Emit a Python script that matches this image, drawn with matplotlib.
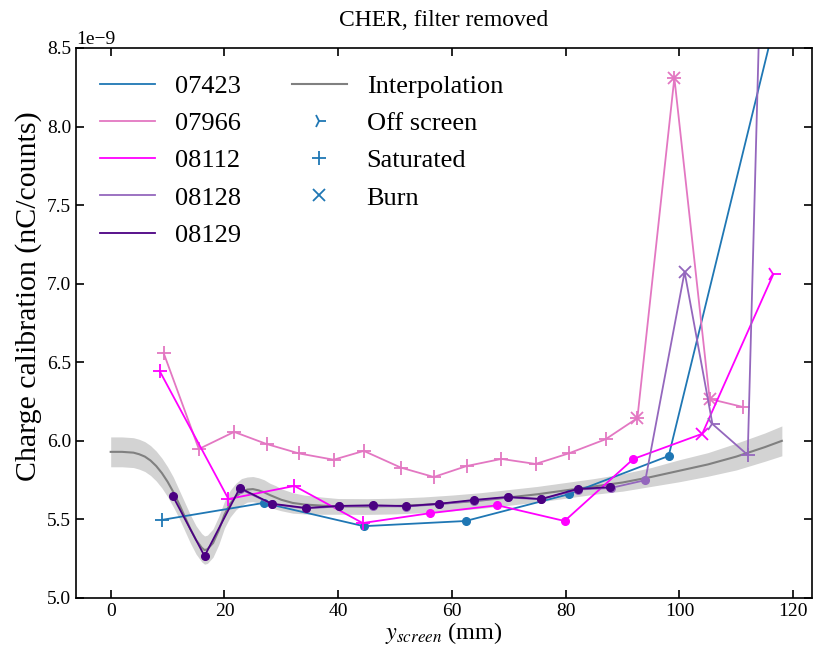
import matplotlib
matplotlib.use("Agg")
import matplotlib.pyplot as plt
from matplotlib.lines import Line2D
import numpy as np

plt.rcParams['font.family'] = ['Liberation Serif', 'DejaVu Serif']
plt.rcParams['mathtext.fontset'] = 'stix'

# ---- data (values in units of 1e-9 nC/counts) ----
x_07423 = [9.0, 26.9, 44.5, 62.4, 80.5, 98.1, 121.0]
y_07423 = [5.497, 5.605, 5.457, 5.49, 5.66, 5.904, 9.29]
m_07423 = ['+', 'o', 'o', 'o', 'o', 'o', 'o']

x_07966 = [9.3, 15.5, 21.7, 27.4, 33.1, 39.2, 44.5, 51.0, 56.8, 62.6, 68.7, 74.7, 80.5, 87.0, 92.6, 99.1, 105.3, 111.1]
y_07966 = [6.56, 5.948, 6.057, 5.98, 5.92, 5.88, 5.936, 5.83, 5.77, 5.84, 5.885, 5.853, 5.92, 6.01, 6.145, 8.31, 6.267, 6.216]
m_07966 = ['+'] * 14 + ['+x', '+x', '+x', '+']

x_08112 = [8.6, 20.7, 32.3, 44.3, 56.2, 68.0, 79.8, 91.9, 104.0, 116.5]
y_08112 = [6.445, 5.63, 5.713, 5.477, 5.54, 5.59, 5.49, 5.885, 6.045, 7.06]
m_08112 = ['+', '+', '+', '+', 'o', 'o', 'o', 'o', 'x', '4']

x_08128 = [22.7, 28.3, 34.3, 40.2, 46.2, 52.0, 57.8, 63.9, 69.8, 75.7, 82.1, 87.9, 94.0, 100.9, 105.8, 112.0, 116.0]
y_08128 = [5.695, 5.598, 5.57, 5.583, 5.587, 5.582, 5.597, 5.62, 5.64, 5.628, 5.69, 5.70, 5.75, 7.075, 6.107, 5.91, 11.33]
m_08128 = ['o'] * 13 + ['x', '4', '+', 'o']

x_08129 = [10.9, 16.5, 22.7, 28.3, 34.3, 40.2, 46.2, 52.0, 57.8, 63.9, 69.8, 75.7, 82.1, 87.7]
y_08129 = [5.65, 5.267, 5.70, 5.60, 5.573, 5.586, 5.59, 5.585, 5.60, 5.624, 5.643, 5.63, 5.694, 5.705]
m_08129 = ['o'] * 14

x_interp = [0, 2, 4, 5, 6, 7, 8, 9, 10, 11, 12, 13, 14, 15, 16, 16.5, 17, 18, 19, 20, 21, 22, 23, 24, 25,
            26, 27, 28, 29, 30, 32, 34, 37, 40, 45, 50, 55, 60, 65, 70, 75, 80, 85, 90, 95, 100, 105, 110,
            115, 118]
y_interp = [5.93, 5.93, 5.925, 5.915, 5.90, 5.875, 5.84, 5.795, 5.74, 5.675, 5.60, 5.52, 5.44, 5.37, 5.32,
            5.305, 5.31, 5.35, 5.43, 5.53, 5.60, 5.645, 5.675, 5.69, 5.693, 5.685, 5.672, 5.655, 5.64, 5.625,
            5.605, 5.595, 5.588, 5.583, 5.582, 5.585, 5.593, 5.605, 5.62, 5.64, 5.66, 5.685, 5.71, 5.735,
            5.77, 5.81, 5.85, 5.90, 5.96, 6.00]
e_interp = [0.095, 0.095, 0.095, 0.095, 0.095, 0.095, 0.095, 0.095, 0.095, 0.095, 0.09, 0.09, 0.09, 0.09,
            0.09, 0.09, 0.09, 0.09, 0.09, 0.085, 0.085, 0.085, 0.085, 0.08, 0.08, 0.08, 0.08, 0.075, 0.075,
            0.07, 0.065, 0.06, 0.055, 0.05, 0.05, 0.05, 0.05, 0.05, 0.05, 0.05, 0.05, 0.05, 0.05, 0.055,
            0.06, 0.07, 0.075, 0.085, 0.09, 0.095]

runs = ['07423', '07966', '08112', '08128', '08129']
colors = ['#1f77b4', '#e377c2', '#ff00ff', '#9467bd', '#4b0082']
xs = [x_07423, x_07966, x_08112, x_08128, x_08129]
ys = [y_07423, y_07966, y_08112, y_08128, y_08129]
ms = [m_07423, m_07966, m_08112, m_08128, m_08129]
scale = 1e-9

fig = plt.figure(figsize=(8.14, 6.58), dpi=100)
ax = fig.add_axes([76 / 814, 1 - 598 / 658, (812 - 76) / 814, (598 - 48) / 658])

xi = np.array(x_interp)
yi = np.array(y_interp) * scale
ei = np.array(e_interp) * scale
ax.fill_between(xi, yi - ei, yi + ei, color='#d3d3d3', lw=0, zorder=1)
ax.plot(xi, yi, color='#808080', lw=1.5, zorder=1.5)

msize = {'o': 5.5, '+': 10, 'x': 9, '4': 11}
mew = {'o': 1, '+': 1.3, 'x': 1.3, '4': 1.3}
for run, c, x, y, m in zip(runs, colors, xs, ys, ms):
    ya = np.array(y) * scale
    ax.plot(x, ya, color=c, lw=1.3, zorder=2)
    for xx, yy, mm in zip(x, ya, m):
        for mk in (['+', 'x'] if mm == '+x' else [mm]):
            ax.plot([xx], [yy], marker=mk, color=c, ms=msize[mk], mew=mew[mk], ls='none', zorder=2)

ax.set_xlim(-6.1, 123.3)
ax.set_ylim(5.0e-9, 8.5e-9)
ax.set_xticks([0, 20, 40, 60, 80, 100, 120])
ax.set_yticks(np.arange(5.0, 8.51, 0.5) * scale)
ax.tick_params(direction='in', top=True, right=True, length=6, width=1.2, labelsize=14)
for s in ax.spines.values():
    s.set_linewidth(1.2)
ax.yaxis.get_offset_text().set_fontsize(14)

ax.set_xlabel('$y_{screen}$ (mm)', fontsize=17.5, labelpad=0)
ax.set_ylabel('Charge calibration (nC/counts)', fontsize=21.5)
ax.yaxis.set_label_coords(-0.046, 0.548)
ax.set_title('CHER, filter removed', fontsize=17, pad=16)

handles = [Line2D([], [], color=c, lw=1.3) for c in colors]
handles.append(Line2D([], [], color='#808080', lw=1.5))
handles.append(Line2D([], [], color='#1f77b4', marker='4', ls='none', ms=10, mew=1.3))
handles.append(Line2D([], [], color='#1f77b4', marker='+', ls='none', ms=10, mew=1.3))
handles.append(Line2D([], [], color='#1f77b4', marker='x', ls='none', ms=9, mew=1.3))
labels = runs + ['Interpolation', 'Off screen', 'Saturated', 'Burn']
ax.legend(handles, labels, ncol=2, loc='upper left', frameon=False, fontsize=19,
          handlelength=2.08, handletextpad=0.76, columnspacing=1.93, labelspacing=0.52,
          bbox_to_anchor=(0.0, 0.995))

fig.savefig('out.png', dpi=100)
